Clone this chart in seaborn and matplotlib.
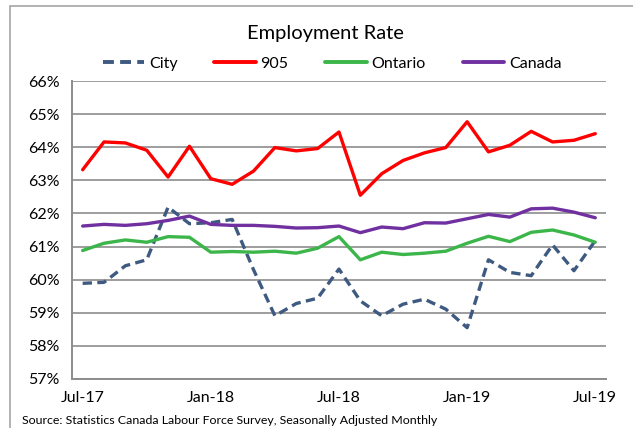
import pandas as pd
import matplotlib.pyplot as plt
import matplotlib.patches as mpatches
from matplotlib.lines import Line2D
import seaborn as sns

# Monthly employment rate (%), Jul-17 .. Jul-19
months = ['Jul-17', 'Aug-17', 'Sep-17', 'Oct-17', 'Nov-17', 'Dec-17',
          'Jan-18', 'Feb-18', 'Mar-18', 'Apr-18', 'May-18', 'Jun-18',
          'Jul-18', 'Aug-18', 'Sep-18', 'Oct-18', 'Nov-18', 'Dec-18',
          'Jan-19', 'Feb-19', 'Mar-19', 'Apr-19', 'May-19', 'Jun-19', 'Jul-19']

city = [59.89, 59.92, 60.42, 60.60, 62.19, 61.69, 61.72, 61.82, 60.30,
        58.91, 59.28, 59.44, 60.32, 59.36, 58.91, 59.26, 59.41, 59.11,
        58.55, 60.60, 60.22, 60.12, 61.05, 60.27, 61.18]
gta905 = [63.32, 64.16, 64.13, 63.91, 63.10, 64.03, 63.05, 62.88, 63.28,
          63.99, 63.89, 63.96, 64.46, 62.55, 63.20, 63.60, 63.83, 63.99,
          64.77, 63.86, 64.06, 64.48, 64.16, 64.21, 64.41]
ontario = [60.88, 61.10, 61.20, 61.13, 61.30, 61.28, 60.83, 60.85, 60.83,
           60.86, 60.80, 60.95, 61.30, 60.60, 60.83, 60.76, 60.80, 60.86,
           61.10, 61.31, 61.15, 61.43, 61.50, 61.35, 61.13]
canada = [61.62, 61.67, 61.64, 61.69, 61.79, 61.92, 61.67, 61.64, 61.64,
          61.61, 61.56, 61.57, 61.62, 61.42, 61.59, 61.54, 61.72, 61.71,
          61.84, 61.97, 61.89, 62.14, 62.16, 62.04, 61.87]

tick_labels = ['Jul-17', 'Jan-18', 'Jul-18', 'Jan-19', 'Jul-19']
y_ticks = [57, 58, 59, 60, 61, 62, 63, 64, 65, 66]

series_names = ['City', '905', 'Ontario', 'Canada']
series_values = [city, gta905, ontario, canada]
colors = ['#3F5A80', '#FF0000', '#3CB64A', '#7030A0']

sns.set_style('white')
plt.rcParams['font.family'] = ['Lato', 'DejaVu Sans']
plt.rcParams['text.color'] = 'black'
plt.rcParams['xtick.labelcolor'] = 'black'
plt.rcParams['ytick.labelcolor'] = 'black'

fig = plt.figure(figsize=(6.33, 4.28), dpi=100)
ax = fig.add_axes([0.1137, 0.1145, 0.8436, 0.6962])

# outer chart border
fig.patches.append(mpatches.Rectangle((10 / 633, -0.05), 1.0, 1 - 6 / 428 + 0.05,
                                      transform=fig.transFigure, fill=False,
                                      edgecolor='#A6A6A6', linewidth=1.2))

x = list(range(len(months)))
handles = []
for name, vals, col in zip(series_names, series_values, colors):
    ls = (0, (2.8, 1.6)) if name == 'City' else '-'
    sns.lineplot(x=x, y=vals, ax=ax, color=col, linewidth=2.4, linestyle=ls)
    handles.append(Line2D([], [], color=col, linewidth=2.8, linestyle=ls))

ax.set_xlim(-0.5, 24.5)
ax.set_ylim(57, 66)
ax.set_yticks(y_ticks)
ax.set_yticklabels([f'{v}%' for v in y_ticks], fontsize=11.5)
ax.yaxis.grid(True, color='#8C8C8C', linewidth=1.2)
ax.set_axisbelow(True)

ax.set_xticks([months.index(t) for t in tick_labels])
ax.set_xticklabels(tick_labels, fontsize=11.5)
ax.set_xticks([months.index(t) - 0.5 for t in tick_labels], minor=True)
ax.tick_params(axis='x', which='major', length=0, pad=9)
ax.tick_params(axis='x', which='minor', length=4, width=1.2, color='#8C8C8C')
ax.tick_params(axis='y', length=6, width=1.2, color='#8C8C8C', pad=3)

for s in ['top', 'right']:
    ax.spines[s].set_visible(False)
for s in ['left', 'bottom']:
    ax.spines[s].set_color('#8C8C8C')
    ax.spines[s].set_linewidth(1.4)
ax.set_xlabel('')
ax.set_ylabel('')

fig.text(325 / 633, 1 - 33 / 428, 'Employment Rate', ha='center', va='center', fontsize=14.5)
fig.legend(handles, series_names, loc='center', bbox_to_anchor=(332 / 633, 1 - 64 / 428),
           ncol=4, frameon=False, fontsize=11.5, handlelength=2.6, handletextpad=0.3,
           columnspacing=2.3)
fig.text(22 / 633, 1 - 421 / 428, 'Source: Statistics Canada Labour Force Survey, Seasonally Adjusted Monthly',
         ha='left', va='center', fontsize=8.9)

fig.savefig('out.png', dpi=100)
